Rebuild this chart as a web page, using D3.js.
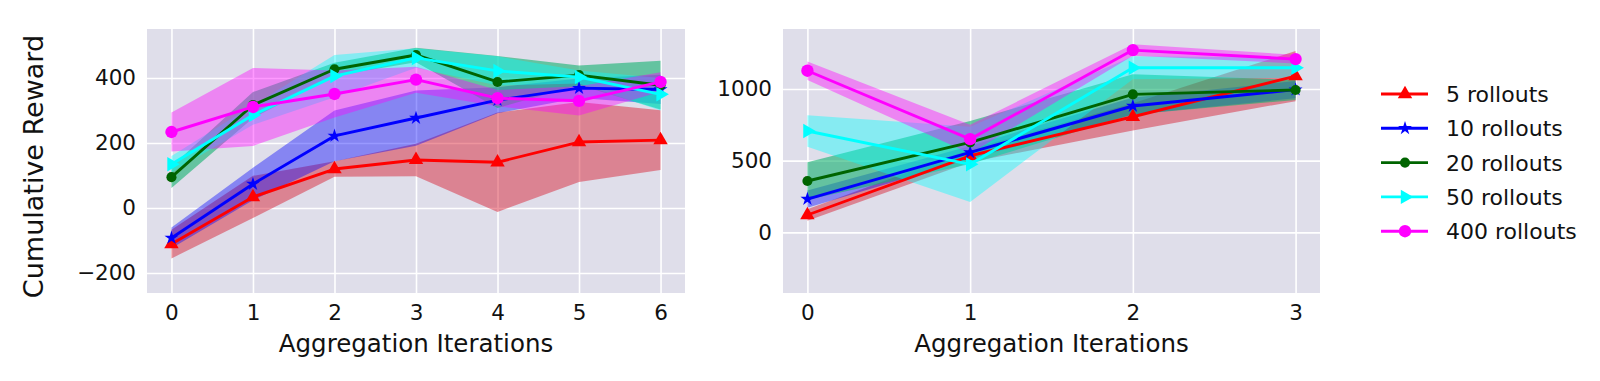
<!DOCTYPE html>
<html><head><meta charset="utf-8">
<script src="https://cdn.jsdelivr.net/npm/d3@7"></script>
<style>body{margin:0;background:#fff;} text{font-family:"DejaVu Sans",sans-serif;fill:#111;}</style>
</head><body>
<svg id="c" width="1600" height="381"></svg>
<script>
// ---- data ----
const seriesNames = ["5 rollouts","10 rollouts","20 rollouts","50 rollouts","400 rollouts"];
const seriesColors = ["#ff0000","#0000ff","#006400","#00ffff","#ff00ff"];
const bandColors = ["#d71428","#0000ff","#12b16e","#00ffff","#ff00ff"];
const bandOpacity = [0.45,0.4,0.6,0.4,0.4];
const markers = ["triUp","star","circle","triRight","bigCircle"];

const itersLeft = [0,1,2,3,4,5,6];
const left5Mean   = [-111, 34, 120, 148, 141, 203, 209];
const left5Std    = [44, 65, 24, 50, 153, 123, 92];
const left10Mean  = [-92, 74, 222, 277, 332, 369, 365];
const left10Std   = [32, 50, 78, 85, 40, 30, 45];
const left20Mean  = [95, 317, 427, 471, 388, 409, 378];
const left20Std   = [33, 40, 20, 22, 80, 30, 75];
const left50Mean  = [135, 286, 406, 462, 422, 403, 350];
const left50Std   = [25, 30, 65, 30, 45, 20, 50];
const left400Mean = [234, 311, 351, 395, 338, 330, 388];
const left400Std  = [60, 120, 72, 40, 25, 45, 30];
const leftYTicks = [-200, 0, 200, 400];
const leftXTicks = [0,1,2,3,4,5,6];

const itersRight = [0,1,2,3];
const right5Mean   = [121, 534, 806, 1090];
const right5Std    = [40, 45, 95, 175];
const right10Mean  = [232, 557, 881, 995];
const right10Std   = [60, 45, 60, 60];
const right20Mean  = [358, 627, 962, 993];
const right20Std   = [130, 150, 140, 70];
const right50Mean  = [707, 474, 1148, 1148];
const right50Std   = [110, 262, 80, 70];
const right400Mean = [1127, 650, 1271, 1208];
const right400Std  = [65, 100, 40, 30];
const rightYTicks = [0, 500, 1000];
const rightXTicks = [0,1,2,3];

const xLabel = "Aggregation Iterations";
const yLabel = "Cumulative Reward";

// ---- drawing ----
const svg = d3.select("#c");
const bg = "#dfdeea";

function markerPath(m){
  if(m==="triUp") return d3.symbol(d3.symbolTriangle, 90)();
  if(m==="star") return d3.symbol(d3.symbolStar, 60)();
  if(m==="circle") return d3.symbol(d3.symbolCircle, 80)();
  if(m==="triRight") return d3.symbol(d3.symbolTriangle, 90)();
  return d3.symbol(d3.symbolCircle, 120)();
}
function markerRot(m){ return m==="triRight" ? 90 : 0; }

function panel(cfg){
  const x = d3.scaleLinear().domain(cfg.xDomain).range([cfg.x0, cfg.x1]);
  const y = d3.scaleLinear().domain(cfg.yDomain).range([cfg.y1, cfg.y0]);
  const g = svg.append("g");
  g.append("rect").attr("x",cfg.x0).attr("y",cfg.y0).attr("width",cfg.x1-cfg.x0).attr("height",cfg.y1-cfg.y0).attr("fill",bg);
  const gx = g.append("g").attr("transform",`translate(0,${cfg.y1})`)
    .call(d3.axisBottom(x).tickValues(cfg.xTicks).tickSize(-(cfg.y1-cfg.y0)).tickPadding(10).tickFormat(d3.format("d")));
  gx.select(".domain").remove();
  gx.selectAll("line").attr("stroke","#fff").attr("stroke-width",1.6);
  gx.selectAll("text").attr("font-size",21.5).attr("fill","#111").attr("dy","0.71em").attr("y",12);
  const gy = g.append("g").attr("transform",`translate(${cfg.x0},0)`)
    .call(d3.axisLeft(y).tickValues(cfg.yTicks).tickSize(-(cfg.x1-cfg.x0)).tickPadding(11).tickFormat(d=>d<0?"\u2212"+Math.abs(d):String(d)));
  gy.select(".domain").remove();
  gy.selectAll("line").attr("stroke","#fff").attr("stroke-width",1.6);
  gy.selectAll("text").attr("font-size",21.5).attr("fill","#111");
  cfg.series.forEach((s,i)=>{
    const pts = cfg.iters.map((it,k)=>({x:it, m:s.mean[k], sd:s.std[k]}));
    const area = d3.area().x(d=>x(d.x)).y0(d=>y(d.m-d.sd)).y1(d=>y(d.m+d.sd));
    g.append("path").attr("d",area(pts)).attr("fill",bandColors[i]).attr("fill-opacity",bandOpacity[i]);
  });
  cfg.series.forEach((s,i)=>{
    const pts = cfg.iters.map((it,k)=>({x:it, m:s.mean[k]}));
    const line = d3.line().x(d=>x(d.x)).y(d=>y(d.m));
    g.append("path").attr("d",line(pts)).attr("fill","none").attr("stroke",seriesColors[i]).attr("stroke-width",2.9).attr("stroke-linejoin","round");
    g.selectAll(null).data(pts).enter().append("path")
      .attr("d",markerPath(markers[i]))
      .attr("transform",d=>`translate(${x(d.x)},${y(d.m)}) rotate(${markerRot(markers[i])})`)
      .attr("fill",seriesColors[i]);
  });
  g.append("text").attr("x",(cfg.x0+cfg.x1)/2).attr("y",352).attr("text-anchor","middle").attr("font-size",24.5).text(xLabel);
}

panel({x0:147,x1:685,y0:29,y1:293,xDomain:[-0.3,6.3],yDomain:[-261.5,551],
  iters:itersLeft,xTicks:leftXTicks,yTicks:leftYTicks,
  series:[{mean:left5Mean,std:left5Std},{mean:left10Mean,std:left10Std},{mean:left20Mean,std:left20Std},{mean:left50Mean,std:left50Std},{mean:left400Mean,std:left400Std}]});
panel({x0:783,x1:1320,y0:29,y1:293,xDomain:[-0.15,3.15],yDomain:[-423,1418],
  iters:itersRight,xTicks:rightXTicks,yTicks:rightYTicks,
  series:[{mean:right5Mean,std:right5Std},{mean:right10Mean,std:right10Std},{mean:right20Mean,std:right20Std},{mean:right50Mean,std:right50Std},{mean:right400Mean,std:right400Std}]});

svg.append("text").attr("transform","translate(43,166.5) rotate(-90)").attr("text-anchor","middle").attr("font-size",27).text(yLabel);

const leg = svg.append("g");
seriesNames.forEach((n,i)=>{
  const cy = 94 + i*34.3;
  leg.append("line").attr("x1",1381).attr("x2",1428).attr("y1",cy).attr("y2",cy).attr("stroke",seriesColors[i]).attr("stroke-width",2.9);
  leg.append("path").attr("d",markerPath(markers[i])).attr("transform",`translate(1405,${cy}) rotate(${markerRot(markers[i])})`).attr("fill",seriesColors[i]);
  leg.append("text").attr("x",1446).attr("y",cy).attr("dy","0.36em").attr("font-size",22).text(n);
});
</script>
</body></html>
